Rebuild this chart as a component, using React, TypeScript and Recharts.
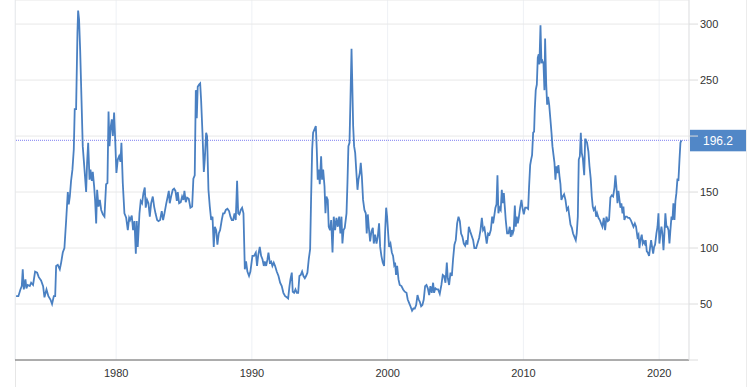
import { CartesianGrid, Line, LineChart, ReferenceLine, XAxis, YAxis } from "recharts";

type Pt = [number, number];

// [decimal year, price]
const prices1970s: Pt[] = [
  [1972.63, 57], [1972.8, 57], [1972.95, 63], [1973.05, 66], [1973.12, 81], [1973.2, 63], [1973.32, 72],
  [1973.39, 64], [1973.49, 67], [1973.64, 66], [1973.74, 69], [1973.88, 67], [1974.03, 79], [1974.18, 78],
  [1974.3, 74], [1974.47, 71], [1974.62, 66], [1974.72, 56], [1974.87, 63], [1975.01, 57], [1975.16, 54],
  [1975.28, 50], [1975.41, 57], [1975.51, 57], [1975.58, 84], [1975.7, 85], [1975.85, 81], [1975.95, 87],
  [1976.07, 96], [1976.19, 100], [1976.32, 125], [1976.44, 150], [1976.51, 139], [1976.59, 146], [1976.68, 160],
  [1976.78, 170], [1976.88, 188], [1976.95, 224], [1977.05, 224], [1977.15, 292], [1977.2, 312], [1977.27, 304],
  [1977.35, 277], [1977.45, 232], [1977.54, 191], [1977.67, 170], [1977.79, 150], [1977.86, 176], [1977.94, 194],
  [1978.04, 161], [1978.11, 170], [1978.21, 160], [1978.28, 168], [1978.38, 155], [1978.45, 143], [1978.53, 122],
  [1978.6, 152], [1978.7, 137], [1978.8, 143], [1978.9, 134], [1979.02, 130], [1979.14, 128], [1979.26, 157],
  [1979.36, 158], [1979.44, 222], [1979.51, 191], [1979.61, 209], [1979.68, 215], [1979.76, 200], [1979.85, 221],
  [1979.93, 197],
];

const prices1980s: Pt[] = [
  [1980.02, 167], [1980.12, 179], [1980.22, 182], [1980.32, 177], [1980.39, 194], [1980.49, 158], [1980.61, 131],
  [1980.74, 127], [1980.86, 116], [1980.96, 127], [1981.03, 125], [1981.15, 129], [1981.25, 116], [1981.35, 124],
  [1981.45, 95], [1981.52, 124], [1981.59, 101], [1981.72, 131], [1981.81, 142], [1981.91, 140], [1982.01, 149],
  [1982.11, 154], [1982.18, 136], [1982.28, 143], [1982.38, 140], [1982.48, 128], [1982.58, 140], [1982.7, 146],
  [1982.8, 137], [1982.9, 131], [1983.02, 125], [1983.12, 124], [1983.24, 125], [1983.36, 133], [1983.46, 125],
  [1983.56, 131], [1983.68, 139], [1983.8, 146], [1983.88, 151], [1983.95, 140], [1984.05, 146], [1984.17, 152],
  [1984.27, 153], [1984.37, 151], [1984.47, 142], [1984.54, 150], [1984.64, 140], [1984.76, 141], [1984.86, 146],
  [1984.96, 143], [1985.03, 151], [1985.13, 141], [1985.23, 145], [1985.35, 144], [1985.47, 136], [1985.6, 137],
  [1985.69, 162], [1985.79, 165], [1985.87, 241], [1985.94, 216], [1986.01, 244], [1986.11, 246], [1986.19, 247],
  [1986.26, 232], [1986.36, 203], [1986.46, 168], [1986.53, 179], [1986.63, 203], [1986.7, 200], [1986.8, 152],
  [1986.9, 137], [1987.0, 125], [1987.1, 128], [1987.19, 101], [1987.27, 119], [1987.37, 116], [1987.46, 103],
  [1987.56, 113], [1987.66, 116], [1987.78, 125], [1987.88, 131], [1987.98, 131], [1988.08, 134], [1988.2, 135],
  [1988.32, 133], [1988.42, 128], [1988.52, 125], [1988.62, 125], [1988.72, 131], [1988.81, 125], [1988.91, 160],
  [1988.99, 131], [1989.08, 130], [1989.18, 134], [1989.28, 136], [1989.38, 131], [1989.48, 81], [1989.57, 88],
  [1989.67, 79], [1989.79, 75], [1989.89, 79],
];

const prices1990s: Pt[] = [
  [1990.04, 93], [1990.16, 93], [1990.29, 96], [1990.38, 84], [1990.46, 93], [1990.58, 101], [1990.68, 93],
  [1990.78, 90], [1990.88, 84], [1990.95, 88], [1991.05, 84], [1991.15, 90], [1991.22, 96], [1991.32, 87],
  [1991.42, 88], [1991.51, 84], [1991.61, 87], [1991.71, 84], [1991.83, 79], [1991.96, 75], [1992.08, 69],
  [1992.2, 66], [1992.32, 60], [1992.45, 57], [1992.57, 56], [1992.67, 55], [1992.77, 66], [1992.84, 72],
  [1992.94, 78], [1993.01, 61], [1993.11, 60], [1993.21, 63], [1993.31, 60], [1993.41, 60], [1993.5, 75],
  [1993.6, 76], [1993.7, 79], [1993.8, 75], [1993.9, 73], [1993.99, 75], [1994.09, 78], [1994.19, 90],
  [1994.29, 99], [1994.36, 143], [1994.44, 188], [1994.51, 203], [1994.61, 206], [1994.71, 209], [1994.78, 188],
  [1994.85, 161], [1994.93, 170], [1995.0, 157], [1995.1, 182], [1995.17, 161], [1995.25, 170], [1995.35, 155],
  [1995.42, 131], [1995.49, 146], [1995.59, 143], [1995.66, 119], [1995.76, 116], [1995.84, 125], [1995.94, 96],
  [1996.03, 128], [1996.13, 116], [1996.23, 127], [1996.33, 119], [1996.43, 128], [1996.52, 113], [1996.6, 128],
  [1996.67, 104], [1996.75, 116], [1996.84, 118], [1996.97, 131], [1997.04, 158], [1997.11, 191], [1997.19, 194],
  [1997.26, 232], [1997.34, 278], [1997.38, 256], [1997.46, 209], [1997.53, 191], [1997.61, 185], [1997.7, 167],
  [1997.78, 152], [1997.85, 161], [1997.95, 167], [1998.02, 176], [1998.1, 164], [1998.19, 143], [1998.29, 134],
  [1998.39, 131], [1998.46, 113], [1998.54, 130], [1998.61, 119], [1998.71, 106], [1998.81, 115], [1998.91, 118],
  [1998.98, 104], [1999.08, 112], [1999.18, 104], [1999.27, 110], [1999.37, 122], [1999.45, 101], [1999.54, 93],
  [1999.64, 87], [1999.74, 84], [1999.81, 113], [1999.89, 136], [1999.96, 128],
];

const prices2000s: Pt[] = [
  [2000.04, 113], [2000.11, 101], [2000.21, 104], [2000.31, 96], [2000.4, 93], [2000.48, 85], [2000.55, 87],
  [2000.62, 76], [2000.7, 84], [2000.8, 72], [2000.89, 67], [2001.02, 66], [2001.14, 63], [2001.26, 61],
  [2001.39, 60], [2001.48, 54], [2001.58, 51], [2001.68, 48], [2001.8, 44], [2001.9, 46], [2002.0, 46],
  [2002.1, 49], [2002.2, 58], [2002.29, 54], [2002.37, 52], [2002.47, 48], [2002.56, 49], [2002.66, 54],
  [2002.76, 66], [2002.86, 67], [2002.96, 64], [2003.06, 58], [2003.15, 66], [2003.25, 60], [2003.35, 69],
  [2003.42, 60], [2003.52, 64], [2003.62, 63], [2003.72, 63], [2003.84, 59], [2003.96, 67], [2004.06, 76],
  [2004.16, 75], [2004.26, 69], [2004.36, 87], [2004.43, 73], [2004.53, 67], [2004.63, 78], [2004.73, 75],
  [2004.82, 90], [2004.92, 103], [2005.02, 107], [2005.12, 122], [2005.22, 128], [2005.32, 124], [2005.41, 113],
  [2005.51, 110], [2005.61, 104], [2005.71, 102], [2005.81, 107], [2005.88, 103], [2005.98, 119], [2006.08, 115],
  [2006.3, 107], [2006.39, 100], [2006.52, 100], [2006.62, 104], [2006.74, 109], [2006.84, 116], [2006.94, 127],
  [2007.03, 116], [2007.13, 118], [2007.23, 110], [2007.3, 104], [2007.4, 113], [2007.5, 112], [2007.6, 116],
  [2007.7, 128], [2007.77, 122], [2007.87, 130], [2007.94, 136], [2008.02, 139], [2008.09, 165], [2008.16, 131],
  [2008.24, 136], [2008.33, 134], [2008.41, 152], [2008.48, 140], [2008.56, 149], [2008.63, 137], [2008.7, 125],
  [2008.8, 113], [2008.9, 113], [2009.0, 119], [2009.07, 110], [2009.15, 116], [2009.22, 113], [2009.29, 116],
  [2009.37, 138], [2009.44, 119], [2009.51, 128], [2009.59, 122], [2009.66, 127], [2009.76, 136], [2009.86, 143],
  [2009.93, 136],
];

const prices2010s: Pt[] = [
  [2010.03, 130], [2010.13, 136], [2010.25, 136], [2010.35, 135], [2010.42, 155], [2010.5, 174], [2010.57, 179],
  [2010.64, 183], [2010.72, 203], [2010.79, 204], [2010.84, 224], [2010.91, 241], [2010.99, 246], [2011.06, 270],
  [2011.13, 273], [2011.18, 264], [2011.26, 299], [2011.33, 265], [2011.4, 267], [2011.48, 265], [2011.55, 241],
  [2011.6, 287], [2011.68, 247], [2011.75, 228], [2011.82, 235], [2011.9, 228], [2011.99, 215], [2012.07, 203],
  [2012.14, 191], [2012.22, 183], [2012.29, 176], [2012.36, 161], [2012.44, 173], [2012.51, 167], [2012.58, 174],
  [2012.66, 164], [2012.73, 157], [2012.8, 143], [2012.9, 146], [2013.0, 148], [2013.1, 143], [2013.2, 134],
  [2013.3, 136], [2013.39, 128], [2013.47, 121], [2013.57, 118], [2013.66, 113], [2013.76, 110], [2013.86, 107],
  [2013.93, 113], [2014.01, 128], [2014.08, 179], [2014.16, 182], [2014.23, 203], [2014.3, 185], [2014.38, 180],
  [2014.48, 165], [2014.55, 197], [2014.59, 197], [2014.69, 194], [2014.79, 186], [2014.87, 173], [2014.96, 162],
  [2015.04, 146], [2015.11, 137], [2015.18, 134], [2015.28, 136], [2015.36, 128], [2015.43, 131], [2015.53, 127],
  [2015.63, 125], [2015.72, 122], [2015.82, 119], [2015.92, 127], [2016.02, 116], [2016.12, 128], [2016.22, 124],
  [2016.31, 125], [2016.41, 145], [2016.51, 147], [2016.61, 146], [2016.71, 154], [2016.78, 165], [2016.85, 155],
  [2016.93, 140], [2017.0, 151], [2017.08, 143], [2017.15, 136], [2017.22, 140], [2017.3, 131], [2017.37, 137],
  [2017.44, 125], [2017.52, 128], [2017.62, 128], [2017.71, 127], [2017.81, 127], [2017.91, 125], [2018.01, 122],
  [2018.11, 119], [2018.21, 122], [2018.3, 119], [2018.4, 110], [2018.48, 112], [2018.55, 100], [2018.62, 107],
  [2018.72, 112], [2018.79, 104], [2018.87, 106], [2018.94, 104], [2019.01, 107], [2019.09, 97], [2019.16, 96],
  [2019.26, 93], [2019.34, 101], [2019.41, 107], [2019.48, 101], [2019.56, 95], [2019.63, 101], [2019.7, 103],
  [2019.8, 113], [2019.88, 119], [2019.95, 131],
];

const prices2020s: Pt[] = [
  [2020.02, 104], [2020.1, 113], [2020.17, 119], [2020.24, 113], [2020.32, 98], [2020.39, 113], [2020.46, 131],
  [2020.54, 119], [2020.61, 119], [2020.69, 116], [2020.76, 104], [2020.83, 116], [2020.91, 128], [2020.98, 125],
  [2021.05, 140], [2021.13, 125], [2021.2, 142], [2021.27, 149], [2021.35, 162], [2021.42, 160], [2021.5, 179],
  [2021.57, 194], [2021.64, 196.2],
];

const yearTicks = [1980, 1990, 2000, 2010, 2020];
const priceTicks = [0, 50, 100, 150, 200, 250, 300];
const xDomain: [number, number] = [1972.55, 2022.2];
const yDomain: [number, number] = [0, 321.5];

const data = [...prices1970s, ...prices1980s, ...prices1990s, ...prices2000s, ...prices2010s, ...prices2020s].map(
  ([t, price]) => ({ t, price })
);
const lastPrice = data[data.length - 1].price;

const font = '"Liberation Sans", Arial, Helvetica, sans-serif';
const blue = "#4a80c2";

function PriceTick({ x, y, payload }: any) {
  const v = payload.value;
  // 0 has no label, and the last-value tag covers the one it sits on
  if (v === 0 || Math.abs(v - lastPrice) < 12) return null;
  return (
    <text x={x} y={y} dy="0.355em" textAnchor="start" fill="#333" fontSize={11} fontFamily={font}>
      {v}
    </text>
  );
}

function LastValueTag({ viewBox }: any) {
  const left = viewBox.x + viewBox.width + 1;
  return (
    <g>
      <rect x={left} y={viewBox.y - 10.5} width={56} height={21.5} fill="#5187c7" />
      <text x={left + 28} y={viewBox.y} dy="0.36em" textAnchor="middle" fill="#fff" fontSize={12} fontFamily={font}>
        {lastPrice.toFixed(1)}
      </text>
    </g>
  );
}

export default function App() {
  return (
    <div style={{ position: "relative", width: 754, height: 387, background: "#fff", overflow: "hidden" }}>
      <style>{"body{margin:0}"}</style>
      <div style={{ position: "absolute", left: 15, top: 0, width: 1, height: 387, background: "#e6e6e6" }} />
      <div style={{ position: "absolute", left: 746, top: 0, width: 1, height: 387, background: "#ececec" }} />
      <LineChart width={754} height={387} data={data} margin={{ top: 0, right: 0, bottom: 0, left: 15 }}>
        <CartesianGrid horizontal={false} stroke="#eef1f5" />
        <CartesianGrid vertical={false} stroke="#e8e8e8" />
        <XAxis
          dataKey="t"
          type="number"
          domain={xDomain}
          ticks={yearTicks}
          allowDataOverflow
          height={27}
          tickLine={false}
          tickMargin={3}
          axisLine={{ stroke: "#666" }}
          tick={{ fill: "#333", fontSize: 11, fontFamily: font }}
        />
        <YAxis
          orientation="right"
          type="number"
          domain={yDomain}
          ticks={priceTicks}
          width={65}
          tickSize={9}
          tickMargin={2}
          axisLine={{ stroke: "#e3e3e3" }}
          tickLine={{ stroke: "#dcdcdc" }}
          tick={<PriceTick />}
        />
        <ReferenceLine
          y={lastPrice}
          stroke="#7f7ff2"
          strokeDasharray="1 1"
          label={(props: any) => <LastValueTag {...props} />}
        />
        <Line
          type="linear"
          dataKey="price"
          stroke={blue}
          strokeWidth={1.8}
          dot={false}
          isAnimationActive={false}
        />
      </LineChart>
    </div>
  );
}
